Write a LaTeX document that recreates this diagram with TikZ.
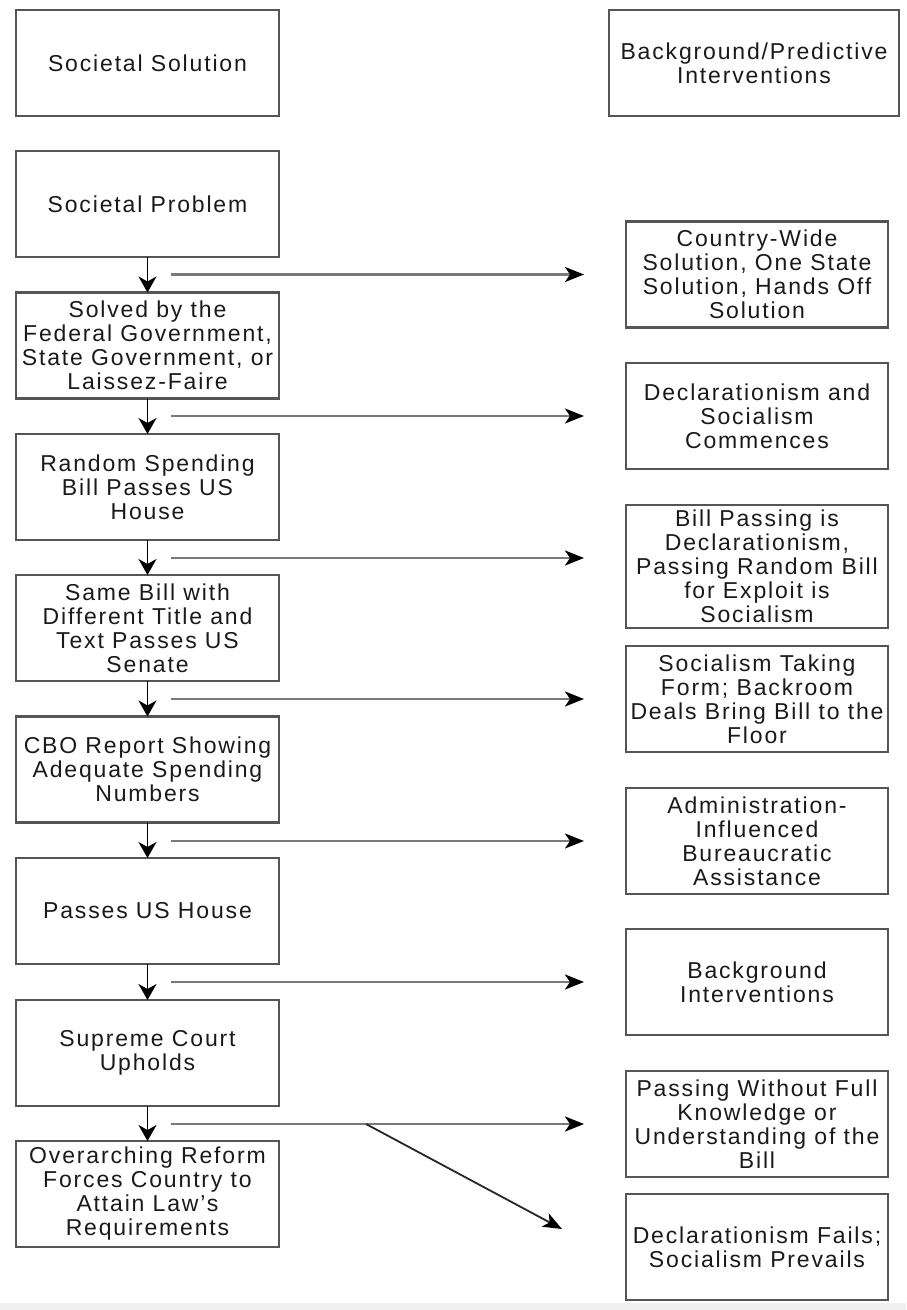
\documentclass[tikz,border=0pt]{standalone}
\usepackage{fontspec}
\setmainfont{Liberation Sans}[LetterSpace=8]
\usetikzlibrary{arrows.meta}
\definecolor{boxgray}{HTML}{555555}
\definecolor{linegray}{HTML}{7A7A7A}
\definecolor{txt}{HTML}{1A1A1A}
\definecolor{band}{HTML}{F0F0F0}
\begin{document}
\begin{tikzpicture}[x=1pt,y=-1pt,
  box/.style={draw=boxgray, line width=2.4pt, fill=white, inner sep=0pt, outer sep=0pt,
    minimum width=263pt, minimum height=106pt, align=center, text=txt,
    font=\fontsize{23}{24}\selectfont},
  rbox/.style={box, minimum width=262pt},
  down/.style={draw=black, line width=1.8pt, -{Stealth[length=16pt,width=18pt,inset=5pt]}},
  side/.style={draw=linegray, line width=2.6pt, -{Stealth[length=19pt,width=15pt,inset=5pt,color=black]}},
  diag/.style={draw=black!85, line width=1.8pt, -{Stealth[length=19pt,width=15pt,inset=5pt,color=black]}}
]
\useasboundingbox (0,0) rectangle (906,1310);
\fill[white] (0,0) rectangle (906,1310);
\fill[band] (0,1303) rectangle (906,1310);

% left column
\node[box] (L1) at (147.5,63) {Societal Solution};
\node[box] (L2) at (147.5,204) {Societal Problem};
\node[box] (L3) at (147.5,345.5) {Solved by the\\Federal Government,\\State Government, or\\Laissez-Faire};
\node[box] (L4) at (147.5,487) {Random Spending\\Bill Passes US\\House};
\node[box] (L5) at (147.5,628) {Same Bill with\\Different Title and\\Text Passes US\\Senate};
\node[box] (L6) at (147.5,769.5) {CBO Report Showing\\Adequate Spending\\Numbers};
\node[box] (L7) at (147.5,911) {Passes US House};
\node[box] (L8) at (147.5,1053) {Supreme Court\\Upholds};
\node[box] (L9) at (147.5,1194) {Overarching Reform\\Forces Country to\\Attain Law's\\Requirements};

% right column
\node[box, minimum width=290pt] (R0) at (754,63) {Background/Predictive\\Interventions};
\node[rbox] (R1) at (757,274.5) {Country-Wide\\Solution, One State\\Solution, Hands Off\\Solution};
\node[rbox] (R2) at (757,416) {Declarationism and\\Socialism\\Commences};
\node[rbox, minimum height=123pt] (R3) at (757,566.5) {Bill Passing is\\Declarationism,\\Passing Random Bill\\for Exploit is\\Socialism};
\node[rbox] (R4) at (757,699) {Socialism Taking\\Form; Backroom\\Deals Bring Bill to the\\Floor};
\node[rbox] (R5) at (757,841) {Administration-\\Influenced\\Bureaucratic\\Assistance};
\node[rbox] (R6) at (757,982) {Background\\Interventions};
\node[rbox] (R7) at (757,1124) {Passing Without Full\\Knowledge or\\Understanding of the\\Bill};
\node[rbox] (R8) at (757,1247) {Declarationism Fails;\\Socialism Prevails};

% vertical arrows
\draw[down] (L2.south) -- (L3.north);
\draw[down] (L3.south) -- (L4.north);
\draw[down] (L4.south) -- (L5.north);
\draw[down] (L5.south) -- (L6.north);
\draw[down] (L6.south) -- (L7.north);
\draw[down] (L7.south) -- (L8.north);
\draw[down] (L8.south) -- (L9.north);

% horizontal arrows
\foreach \i/\y in {1/274.5,2/416,3/558,4/699,5/841,6/982,7/1124}{
  \coordinate (hs\i) at (171,\y);
  \coordinate (he\i) at (584,\y);
  \draw[side] (hs\i) -- (he\i);
}
\coordinate (ds) at (366,1124);
\coordinate (de) at (562,1229);
\draw[diag] (ds) -- (de);
\end{tikzpicture}
\end{document}
